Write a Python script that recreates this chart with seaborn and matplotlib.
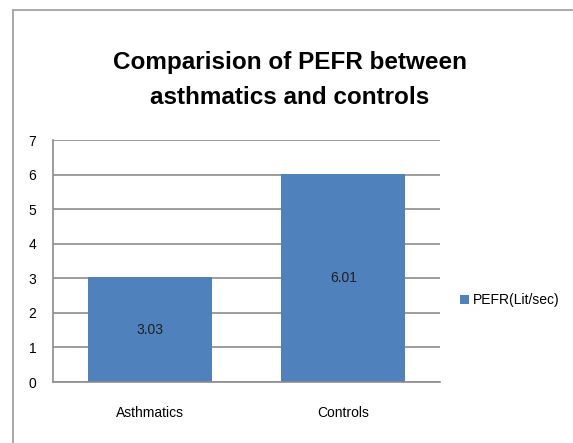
import matplotlib
matplotlib.use("Agg")
import matplotlib.pyplot as plt
import seaborn as sns
import pandas as pd
from matplotlib.patches import Rectangle

categories = ["Asthmatics", "Controls"]
values = [3.03, 6.01]
series_name = "PEFR(Lit/sec)"
yticks = [0, 1, 2, 3, 4, 5, 6, 7]

sns.set_theme(style="white")
plt.rcParams['font.family'] = ['Liberation Sans', 'DejaVu Sans']
plt.rcParams['text.color'] = 'black'

df = pd.DataFrame({"cat": categories, "val": values, "series": series_name})

fig = plt.figure(figsize=(5.73, 4.43), dpi=100)
fig.patch.set_facecolor("white")
# outer chart frame
fig.add_artist(Rectangle((13/573, -0.05), 1.0, 1 - 10/443 + 0.05, transform=fig.transFigure,
                         fill=False, edgecolor="#9a9a9a", linewidth=1.2))

ax = fig.add_axes([53/573, 1 - 382/443, (440 - 53)/573, (382 - 140)/443])
sns.barplot(data=df, x="cat", y="val", hue="series", palette=["#4F81BD"],
            width=0.64, ax=ax, legend=True, saturation=1, linewidth=0)
ax.set_ylim(0, 7)
ax.set_yticks(yticks)
ax.set_xlim(-0.5, 1.5)
ax.yaxis.grid(True, color="#8c8c8c", linewidth=1.2)
ax.set_axisbelow(True)
for s in ["top", "right"]:
    ax.spines[s].set_visible(False)
for s in ["left", "bottom"]:
    ax.spines[s].set_color("#8c8c8c")
    ax.spines[s].set_linewidth(1.2)
ax.set_xlabel("")
ax.set_ylabel("")
ax.tick_params(axis="both", labelsize=10, colors="black", length=0)
ax.tick_params(axis="y", pad=12)
ax.tick_params(axis="x", pad=17)

for c in ax.containers:
    ax.bar_label(c, labels=[f"{v:.2f}" for v in c.datavalues], label_type="center",
                 fontsize=10, color="#1f1f1f")

ax.legend(loc="center left", bbox_to_anchor=(1.02, 0.337), frameon=False,
          fontsize=10, handlelength=0.6, handleheight=0.6, handletextpad=0.3)

fig.text(290/573, 1 - 62/443, "Comparision of PEFR between", ha="center", va="center",
         fontsize=17.5, fontweight="bold")
fig.text(290/573, 1 - 98/443, "asthmatics and controls", ha="center", va="center",
         fontsize=17.5, fontweight="bold")

fig.savefig("out.png", dpi=100)
